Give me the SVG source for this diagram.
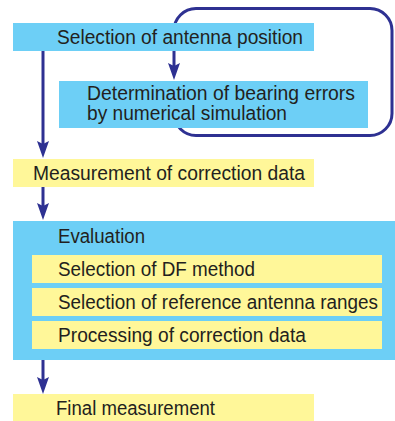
<svg xmlns="http://www.w3.org/2000/svg" width="395" height="421" viewBox="0 0 395 421">
  <defs>
    <style>
      .blue { fill: #6dcff6; }
      .yellow { fill: #fff799; }
      .conn { fill: none; stroke: #2e3192; stroke-width: 3; }
      text { font-family: "Liberation Sans", Arial, sans-serif; font-size: 19.5px; fill: #231f20; }
    </style>
    <marker id="arrow" viewBox="0 -7 20 14" refX="3" refY="0" markerWidth="20" markerHeight="14" markerUnits="userSpaceOnUse" orient="auto">
      <path d="M0,-6 L17,0 L0,6 L3,0 z" fill="#2e3192"/>
    </marker>
  </defs>
  <rect width="395" height="421" fill="#ffffff"/>
  <g id="connectors">
    <path class="conn" d="M174,100 V113.5 A22,22 0 0 0 196,135.5 H370 A22,22 0 0 0 392,113.5 V30.5 A22,22 0 0 0 370,8.5 H196 A22,22 0 0 0 174,30.5 V66" marker-end="url(#arrow)"/>
    <path class="conn" d="M43,51 V144" marker-end="url(#arrow)"/>
    <path class="conn" d="M43,187 V206" marker-end="url(#arrow)"/>
    <path class="conn" d="M43,360 V380" marker-end="url(#arrow)"/>
  </g>
  <g id="node-antenna-position">
    <rect class="blue" x="13" y="23" width="301" height="28"/>
    <text x="57" y="44" textLength="246" lengthAdjust="spacingAndGlyphs">Selection of antenna position</text>
  </g>
  <g id="node-bearing-errors">
    <rect class="blue" x="59" y="81" width="309" height="47"/>
    <text x="87" y="100" textLength="268" lengthAdjust="spacingAndGlyphs">Determination of bearing errors</text>
    <text x="87" y="120" textLength="200" lengthAdjust="spacingAndGlyphs">by numerical simulation</text>
  </g>
  <g id="node-measurement">
    <rect class="yellow" x="13" y="159" width="301" height="28"/>
    <text x="33" y="180" textLength="272" lengthAdjust="spacingAndGlyphs">Measurement of correction data</text>
  </g>
  <g id="node-evaluation">
    <rect class="blue" x="13" y="221" width="382" height="139"/>
    <text x="58" y="243" textLength="87" lengthAdjust="spacingAndGlyphs">Evaluation</text>
    <g id="node-df-method">
      <rect class="yellow" x="32" y="255" width="350" height="28"/>
      <text x="58" y="276" textLength="197" lengthAdjust="spacingAndGlyphs">Selection of DF method</text>
    </g>
    <g id="node-reference-ranges">
      <rect class="yellow" x="32" y="288" width="350" height="28"/>
      <text x="58" y="309" textLength="320" lengthAdjust="spacingAndGlyphs">Selection of reference antenna ranges</text>
    </g>
    <g id="node-processing">
      <rect class="yellow" x="32" y="321" width="350" height="28"/>
      <text x="58" y="342" textLength="248" lengthAdjust="spacingAndGlyphs">Processing of correction data</text>
    </g>
  </g>
  <g id="node-final">
    <rect class="yellow" x="13" y="394" width="301" height="27"/>
    <text x="56" y="415" textLength="159" lengthAdjust="spacingAndGlyphs">Final measurement</text>
  </g>
</svg>
